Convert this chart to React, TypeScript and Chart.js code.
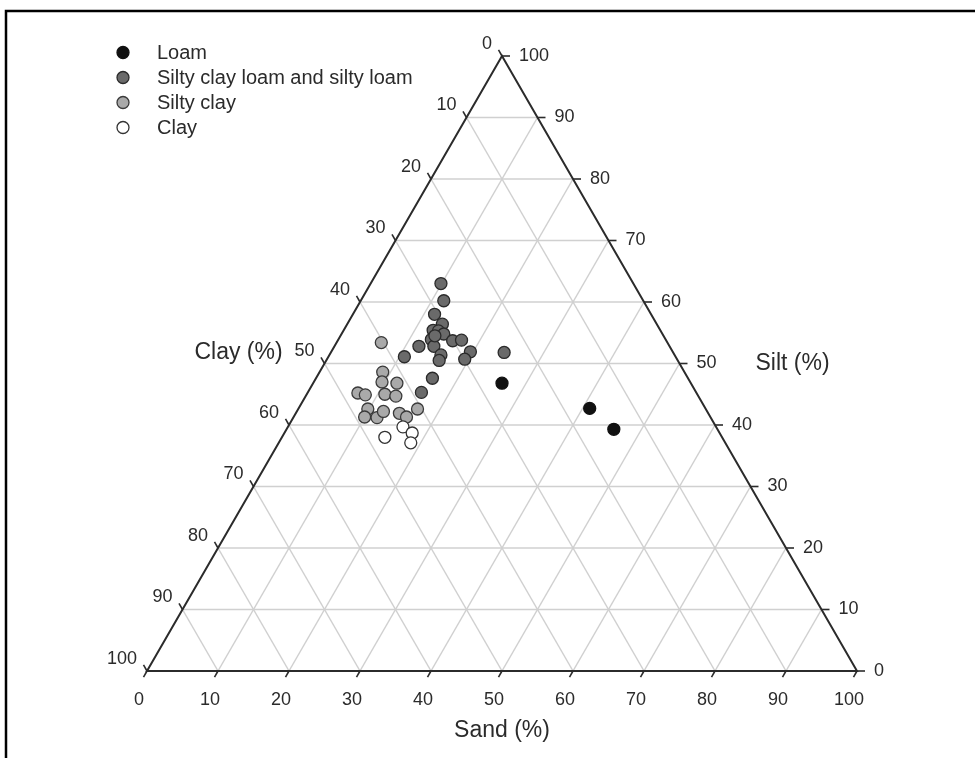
import React, { useEffect, useRef } from "react";
import { Chart, registerables } from "chart.js";

Chart.register(...registerables);

// ---------- Data (percent) ----------
const classNames = ["Loam", "Silty clay loam and silty loam", "Silty clay", "Clay"];

const loamSand = [26.6, 41.0, 46.1];
const loamSilt = [46.8, 42.7, 39.3];
const loamClay = [26.6, 16.3, 14.6];

const sclSand = [9.9, 11.7, 11.5, 13.4, 12.6, 13.4, 14.4, 13.1, 14.0, 11.9, 16.2, 17.4, 19.6, 19.4, 15.7, 15.9, 10.7, 24.4, 16.4, 16.0, 13.3];
const sclSilt = [63.0, 60.2, 58.0, 56.4, 55.4, 55.3, 54.8, 53.9, 52.8, 52.8, 53.7, 53.8, 51.9, 50.7, 51.4, 50.5, 51.1, 51.8, 47.6, 45.3, 54.5];
const sclClay = [27.1, 28.1, 30.5, 30.2, 32.0, 31.3, 30.8, 33.0, 33.2, 35.3, 30.1, 28.8, 28.5, 29.9, 32.9, 33.6, 38.2, 23.8, 36.0, 38.7, 32.2];

const scSand = [6.3, 8.9, 9.6, 11.8, 7.1, 8.3, 11.0, 12.7, 9.8, 10.0, 11.8, 12.2, 14.6, 15.9, 16.8];
const scSilt = [53.4, 48.6, 47.0, 46.8, 45.2, 44.9, 45.0, 44.7, 42.6, 41.3, 41.2, 42.2, 41.9, 41.3, 42.6];
const scClay = [40.3, 42.5, 43.4, 41.4, 47.7, 46.8, 44.0, 42.6, 47.6, 48.7, 47.0, 45.6, 43.5, 42.8, 40.6];

const claySand = [16.2, 18.0, 14.5, 18.6];
const claySilt = [39.7, 38.7, 38.0, 37.1];
const clayClay = [44.1, 43.3, 47.5, 44.3];

const tickValues = [0, 10, 20, 30, 40, 50, 60, 70, 80, 90, 100];
const sandTitle = "Sand (%)";
const siltTitle = "Silt (%)";
const clayTitle = "Clay (%)";

// ---------- Styles ----------
const FONT = "'Liberation Sans', Arial, Helvetica, sans-serif";
const H = Math.sqrt(3) / 2;
const fills = ["#111111", "#6a6a6a", "#a9a9a9", "#ffffff"];
const borders = ["#111111", "#2a2a2a", "#3a3a3a", "#333333"];

const toXY = (sand: number[], silt: number[], clay: number[]) =>
  sand.map((s, i) => {
    const total = s + silt[i] + clay[i];
    const sa = (s / total) * 100;
    const si = (silt[i] / total) * 100;
    return { x: sa + si / 2, y: si * H };
  });

const ternaryPlugin = {
  id: "ternary",
  beforeDraw(chart: any) {
    const ctx = chart.ctx;
    ctx.save();
    ctx.fillStyle = "#ffffff";
    ctx.fillRect(0, 0, chart.width, chart.height);
    ctx.restore();
  },
  beforeDatasetsDraw(chart: any) {
    const ctx = chart.ctx;
    const xs = chart.scales.x;
    const ys = chart.scales.y;
    const P = (sand: number, silt: number) => [
      xs.getPixelForValue(sand + silt / 2),
      ys.getPixelForValue(silt * H),
    ];
    const line = (a: number[], b: number[]) => {
      ctx.beginPath();
      ctx.moveTo(a[0], a[1]);
      ctx.lineTo(b[0], b[1]);
      ctx.stroke();
    };
    ctx.save();
    // grid
    ctx.strokeStyle = "#d0d0d0";
    ctx.lineWidth = 1.5;
    for (const k of tickValues) {
      if (k === 0 || k === 100) continue;
      line(P(0, k), P(100 - k, k));
      line(P(k, 0), P(k, 100 - k));
      line(P(0, 100 - k), P(100 - k, 0));
    }
    // triangle
    ctx.strokeStyle = "#2b2b2b";
    ctx.lineWidth = 2;
    ctx.beginPath();
    const a = P(0, 100), bl = P(0, 0), br = P(100, 0);
    ctx.moveTo(a[0], a[1]);
    ctx.lineTo(bl[0], bl[1]);
    ctx.lineTo(br[0], br[1]);
    ctx.closePath();
    ctx.stroke();

    // ticks and labels
    ctx.lineWidth = 1.6;
    ctx.fillStyle = "#2b2b2b";
    ctx.font = `18px ${FONT}`;
    const tl = 7;
    for (const k of tickValues) {
      const pb = P(k, 0);
      line(pb, [pb[0] - 0.5 * tl, pb[1] + H * tl]);
      ctx.textAlign = "center";
      ctx.textBaseline = "middle";
      ctx.fillText(String(k), pb[0] - 8, pb[1] + 29);
      const pl = P(0, 100 - k);
      line(pl, [pl[0] - 0.5 * tl, pl[1] - H * tl]);
      ctx.textAlign = "right";
      ctx.fillText(String(k), pl[0] - 10, pl[1] - 12);
      const pr = P(100 - k, k);
      line(pr, [pr[0] + 8, pr[1]]);
      ctx.textAlign = "left";
      ctx.fillText(String(k), pr[0] + 17, pr[1]);
    }
    // titles
    ctx.font = `23px ${FONT}`;
    ctx.textAlign = "center";
    ctx.textBaseline = "middle";
    const pc = P(0, 50);
    ctx.fillText(clayTitle, pc[0] - 86, pc[1] - 11);
    const ps = P(50, 50);
    ctx.fillText(siltTitle, ps[0] + 113, ps[1]);
    const pd = P(50, 0);
    ctx.fillText(sandTitle, pd[0], pd[1] + 60);
    ctx.restore();
  },
  afterDraw(chart: any) {
    const ctx = chart.ctx;
    ctx.save();
    ctx.font = `20px ${FONT}`;
    ctx.textAlign = "left";
    ctx.textBaseline = "middle";
    classNames.forEach((name, i) => {
      const y = 52.5 + i * 25;
      ctx.beginPath();
      ctx.arc(123, y, 6, 0, Math.PI * 2);
      ctx.fillStyle = fills[i];
      ctx.fill();
      ctx.lineWidth = 1.3;
      ctx.strokeStyle = borders[i];
      ctx.stroke();
      ctx.fillStyle = "#2b2b2b";
      ctx.fillText(name, 157, y + 1);
    });
    ctx.strokeStyle = "#000000";
    ctx.lineWidth = 2.5;
    ctx.beginPath();
    ctx.moveTo(6, chart.height);
    ctx.lineTo(6, 11);
    ctx.lineTo(chart.width, 11);
    ctx.stroke();
    ctx.restore();
  },
};

export default function App() {
  const ref = useRef<HTMLCanvasElement | null>(null);
  useEffect(() => {
    if (!ref.current) return;
    const groups = [
      toXY(loamSand, loamSilt, loamClay),
      toXY(sclSand, sclSilt, sclClay),
      toXY(scSand, scSilt, scClay),
      toXY(claySand, claySilt, clayClay),
    ];
    const chart = new Chart(ref.current, {
      type: "scatter",
      data: {
        datasets: groups.map((g, i) => ({
          label: classNames[i],
          data: g,
          backgroundColor: fills[i],
          borderColor: borders[i],
          borderWidth: 1.3,
          pointRadius: 6,
          pointHoverRadius: 6,
          order: 3 - i,
        })),
      },
      options: {
        animation: false,
        responsive: false,
        devicePixelRatio: 1,
        layout: { padding: { left: 147, right: 118, top: 56, bottom: 87 } },
        scales: {
          x: { type: "linear", min: 0, max: 100, display: false },
          y: { type: "linear", min: 0, max: 100 * H, display: false },
        },
        plugins: { legend: { display: false }, tooltip: { enabled: false } },
        events: [],
      },
      plugins: [ternaryPlugin],
    });
    return () => chart.destroy();
  }, []);
  return (
    <div style={{ position: "fixed", left: 0, top: 0, width: 975, height: 758 }}>
      <canvas ref={ref} width={975} height={758} style={{ width: 975, height: 758, display: "block" }} />
    </div>
  );
}
